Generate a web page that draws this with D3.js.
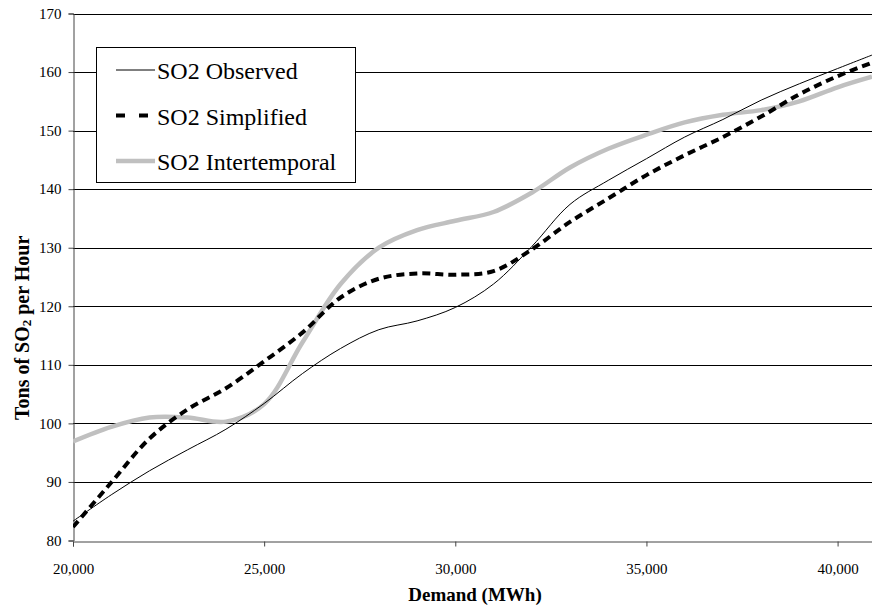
<!DOCTYPE html>
<html>
<head>
<meta charset="utf-8">
<script src="https://cdn.jsdelivr.net/npm/d3@7"></script>
<style>
  body { margin: 0; background: #fff; }
  svg { display: block; }
  svg text { font-family: "Liberation Serif", "Times New Roman", serif; }
</style>
</head>
<body>
<div id="chart"></div>
<script>
// chart data
const demand = [20000, 21000, 22000, 23000, 24000, 25000, 26000, 27000, 28000, 29000, 30000,
                31000, 32000, 33000, 34000, 35000, 36000, 37000, 38000, 39000, 40000, 40900];
const observed = [83.3, 87.8, 91.9, 95.5, 99.0, 103.4, 108.5, 112.8, 116.0, 117.5, 119.8,
                  123.8, 130.2, 137.4, 141.5, 145.2, 148.9, 151.9, 155.2, 158.0, 160.6, 162.9];
const simplified = [82.3, 89.9, 97.4, 102.4, 106.0, 110.6, 115.5, 121.5, 124.7, 125.6, 125.4,
                    126.0, 129.7, 134.4, 138.4, 142.4, 145.8, 148.9, 152.4, 156.2, 159.3, 161.6];
const intertemporal = [96.9, 99.4, 101.0, 101.0, 100.3, 103.3, 113.8, 123.8, 130.0, 133.0, 134.6,
                       136.1, 139.4, 143.7, 146.9, 149.3, 151.4, 152.7, 153.5, 155.0, 157.4, 159.2];
const seriesNames = ['SO2 Observed', 'SO2 Simplified', 'SO2 Intertemporal'];
const xTicks = [20000, 25000, 30000, 35000, 40000];
const yTicks = [80, 90, 100, 110, 120, 130, 140, 150, 160, 170];

const FRAME_WIDTH = 872;
const FRAME_HEIGHT = 608;
const PLOT = {left: 73, right: 872, top: 13.5, bottom: 540.5};
const FONT = '"Liberation Serif", "Times New Roman", serif';

const svg = d3.select('#chart')
  .append('svg')
    .attr('width', FRAME_WIDTH)
    .attr('height', FRAME_HEIGHT);

// scales
const xscale = d3.scaleLinear()
  .domain([20000, 40900])
  .range([PLOT.left, PLOT.right]);
const yscale = d3.scaleLinear()
  .domain([80, 170])
  .range([PLOT.bottom, PLOT.top]);

// horizontal gridlines
svg.append('g')
  .selectAll('line')
  .data(yTicks.slice(1))
  .enter().append('line')
    .attr('x1', PLOT.left)
    .attr('x2', PLOT.right)
    .attr('y1', d => Math.round(yscale(d)) + 0.5)
    .attr('y2', d => Math.round(yscale(d)) + 0.5)
    .attr('stroke', '#000')
    .attr('stroke-width', 1);

// axes
const xAxis = svg.append('g')
  .attr('transform', 'translate(0,' + (Math.round(PLOT.bottom) + 0.5) + ')')
  .call(d3.axisBottom(xscale).tickValues(xTicks).tickSize(5).tickPadding(17)
    .tickFormat(d3.format(',')));
const yAxis = svg.append('g')
  .attr('transform', 'translate(' + (PLOT.left + 0.5) + ',0)')
  .call(d3.axisLeft(yscale).tickValues(yTicks).tickSize(5).tickPadding(7));

[xAxis, yAxis].forEach(a => {
  a.attr('font-family', FONT).attr('font-size', 15);
  a.select('.domain').attr('stroke', '#444');
  a.selectAll('.tick line').attr('stroke', '#444');
  a.selectAll('.tick text')
    .attr('fill', '#000')
    .style('font-family', FONT)
    .style('font-size', '15px');
});

// lines
const line = (vals) => d3.line()
  .x((d, i) => xscale(demand[i]))
  .y(d => yscale(d))
  .curve(d3.curveCatmullRom.alpha(0.5))(vals);

const styles = [
  {stroke: '#000', width: 1, dash: null, legendDash: null},
  {stroke: '#000', width: 4, dash: '8,5', legendDash: '9,14'},
  {stroke: '#c0c0c0', width: 4.5, dash: null, legendDash: null}
];
const allSeries = [observed, simplified, intertemporal];

svg.append('clipPath').attr('id', 'plotclip')
  .append('rect')
    .attr('x', PLOT.left)
    .attr('y', 0)
    .attr('width', PLOT.right - PLOT.left)
    .attr('height', PLOT.bottom + 2);

// draw gray first so the black lines stay on top
[2, 0, 1].forEach(i => {
  svg.append('path')
    .attr('clip-path', 'url(#plotclip)')
    .attr('d', line(allSeries[i]))
    .attr('fill', 'none')
    .attr('stroke', styles[i].stroke)
    .attr('stroke-width', styles[i].width)
    .attr('stroke-dasharray', styles[i].dash);
});

// legend
const legend = svg.append('g');
legend.append('rect')
  .attr('x', 96.5)
  .attr('y', 47.5)
  .attr('width', 259)
  .attr('height', 135)
  .attr('fill', '#fff')
  .attr('stroke', '#000')
  .attr('stroke-width', 1);

const rowY = [70, 115.5, 161];
seriesNames.forEach((name, i) => {
  legend.append('line')
    .attr('x1', 116)
    .attr('x2', 155)
    .attr('y1', rowY[i])
    .attr('y2', rowY[i])
    .attr('stroke', styles[i].stroke)
    .attr('stroke-width', styles[i].width)
    .attr('stroke-dasharray', styles[i].legendDash);
  legend.append('text')
    .attr('x', 157)
    .attr('y', rowY[i] + 9)
    .style('font-family', FONT)
    .style('font-size', '24px')
    .attr('fill', '#000')
    .text(name);
});

// axis titles
svg.append('text')
  .attr('x', 475)
  .attr('y', 601)
  .attr('text-anchor', 'middle')
  .style('font-family', FONT)
  .style('font-size', '19px')
  .style('font-weight', 'bold')
  .text('Demand (MWh)');

// y title runs upward from its start at the bottom
const ytitle = svg.append('text')
  .attr('transform', 'translate(29,420) rotate(-90)')
  .attr('text-anchor', 'start')
  .style('font-family', FONT)
  .style('font-size', '20px')
  .style('font-weight', 'bold');
ytitle.append('tspan').text('Tons of SO');
ytitle.append('tspan').style('font-size', '13px').attr('dy', 2).text('2');
ytitle.append('tspan').attr('dy', -2).text(' per Hour');
</script>
</body>
</html>
